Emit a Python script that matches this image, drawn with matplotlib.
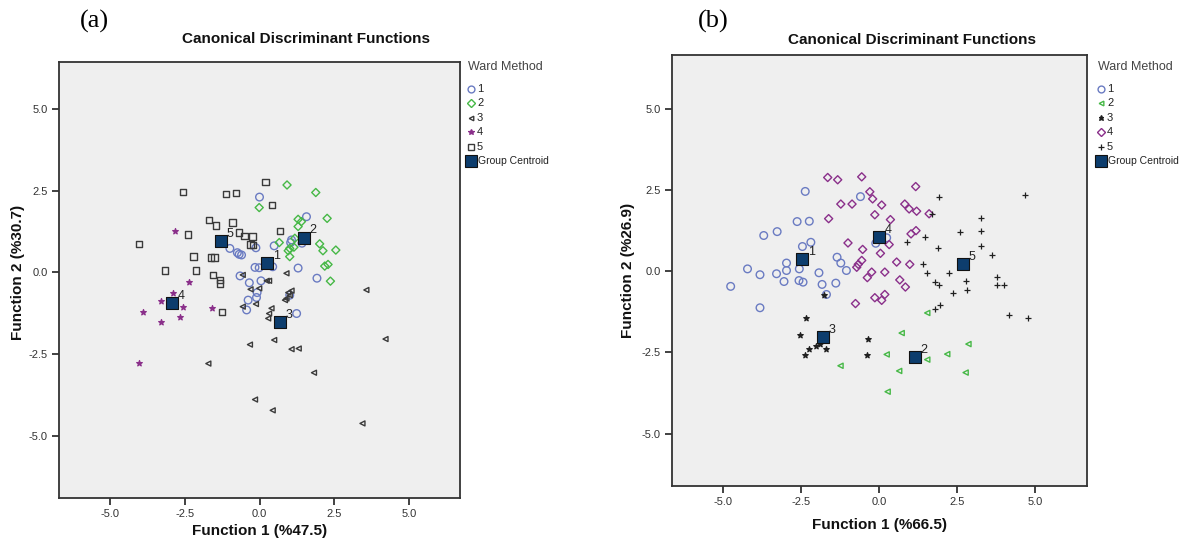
import numpy as np
import matplotlib.pyplot as plt
from matplotlib.lines import Line2D

plt.rcParams['font.family'] = ['Liberation Sans', 'DejaVu Sans']

# ---- panel (a) data: Ward Method groups 1..5 ----
g1a_x = [0.0, 1.57, 1.07, 1.04, 1.42, 0.49, -0.99, -0.74, -0.68, -0.60, -0.12, -0.15, -0.01, 0.44, 1.29,
         1.92, -0.65, -0.34, 0.05, -0.08, -0.38, -0.43, -0.10, 1.01, 1.24]
g1a_y = [2.30, 1.70, 0.99, 0.91, 0.89, 0.81, 0.73, 0.60, 0.55, 0.53, 0.75, 0.15, 0.14, 0.17, 0.13,
         -0.18, -0.11, -0.32, -0.26, -0.62, -0.85, -1.15, -0.77, -0.70, -1.26]
g2a_x = [0.92, 1.88, -0.01, 2.26, 1.29, 1.40, 1.29, 0.66, 1.18, 1.01, 0.96, 1.01, 1.15, 2.01, 2.12, 2.55,
         2.18, 2.29, 2.37]
g2a_y = [2.67, 2.44, 1.98, 1.65, 1.62, 1.55, 1.40, 0.91, 1.04, 0.73, 0.66, 0.48, 0.77, 0.87, 0.66, 0.68,
         0.19, 0.24, -0.27]
g3a_x = [0.90, 3.57, -0.56, 0.24, 0.32, -0.30, -0.01, 0.96, 1.07, 0.85, 0.90, 1.01, -0.56, -0.12, 0.40,
         0.32, 0.29, -0.32, 0.49, 1.07, 1.31, 4.21, 1.82, -0.15, 0.44, 3.44, -1.71]
g3a_y = [-0.03, -0.54, -0.08, -0.26, -0.26, -0.52, -0.49, -0.62, -0.56, -0.85, -0.80, -0.70, -1.05, -0.97,
         -1.10, -1.26, -1.41, -2.21, -2.07, -2.35, -2.33, -2.04, -3.07, -3.89, -4.22, -4.62, -2.79]
g4a_x = [-2.35, -2.88, -3.30, -2.56, -3.90, -3.29, -2.65, -1.60, -4.04, -2.82]
g4a_y = [-0.31, -0.64, -0.87, -1.07, -1.21, -1.51, -1.36, -1.08, -2.77, 1.27]
g5a_x = [0.20, -2.56, -1.12, -0.79, 0.42, -1.68, -1.45, -0.90, -2.39, -0.68, -0.50, -0.23, -0.21, -0.30,
         0.68, -4.03, -2.21, -1.62, -1.51, -3.15, -2.12, -1.56, -1.32, -1.32, -1.25]
g5a_y = [2.76, 2.45, 2.40, 2.42, 2.06, 1.60, 1.43, 1.52, 1.16, 1.21, 1.11, 1.09, 0.84, 0.85, 1.27, 0.86,
         0.48, 0.46, 0.45, 0.05, 0.05, -0.08, -0.24, -0.34, -1.21]
cent_a_x = [0.26, 1.49, 0.69, -2.93, -1.29]
cent_a_y = [0.28, 1.06, -1.51, -0.95, 0.96]

# ---- panel (b) data ----
g1b_x = [-2.36, -0.59, -2.62, -2.23, -3.69, -3.26, -2.45, -2.18, -0.10, 0.25, -1.34, -1.22, -1.04, -4.75,
         -4.21, -3.81, -3.81, -3.28, -2.96, -2.96, -3.04, -2.55, -2.56, -2.43, -1.92, -1.82, -1.68, -1.38]
g1b_y = [2.47, 2.31, 1.54, 1.55, 1.11, 1.23, 0.77, 0.90, 0.87, 1.04, 0.44, 0.26, 0.03, -0.46,
         0.08, -0.10, -1.12, -0.07, 0.26, 0.03, -0.31, 0.08, -0.28, -0.33, -0.04, -0.40, -0.71, -0.36]
g2b_x = [1.55, 0.73, 0.25, -1.23, 0.65, 0.28, 1.55, 2.19, 2.87, 2.78]
g2b_y = [-1.28, -1.90, -2.56, -2.91, -3.07, -3.71, -2.72, -2.55, -2.24, -3.12]
g3b_x = [-2.32, -2.53, -2.23, -2.36, -2.00, -1.89, -1.68, -1.75, -0.36, -0.39]
g3b_y = [-1.44, -1.97, -2.38, -2.58, -2.31, -2.25, -2.38, -0.74, -2.07, -2.58]
g4b_x = [-1.64, -1.32, -0.55, -0.29, -0.20, -1.22, -0.86, 0.09, 1.18, -0.13, 0.37, -1.61, 0.83, 0.97,
         1.21, 1.61, 1.19, 1.03, -0.99, -0.52, 0.33, 0.05, -0.55, -0.66, -0.71, -0.23, -0.37, 0.19,
         0.57, 0.99, 0.67, 0.85, 0.19, -0.13, 0.09, -0.75]
g4b_y = [2.90, 2.83, 2.92, 2.46, 2.24, 2.08, 2.08, 2.05, 2.62, 1.75, 1.60, 1.63, 2.08, 1.93,
         1.86, 1.78, 1.26, 1.16, 0.88, 0.68, 0.83, 0.56, 0.34, 0.22, 0.13, -0.02, -0.19, -0.02,
         0.29, 0.22, -0.26, -0.48, -0.71, -0.81, -0.89, -0.99]
g5b_x = [4.68, 1.93, 1.71, 3.26, 3.26, 2.60, 1.47, 0.91, 1.90, 3.27, 3.64, 1.40, 1.55, 2.25, 2.79, 2.81,
         1.79, 1.93, 2.38, 3.80, 3.77, 4.01, 1.96, 1.79, 4.17, 4.79]
g5b_y = [2.36, 2.29, 1.78, 1.65, 1.26, 1.21, 1.06, 0.90, 0.72, 0.80, 0.52, 0.22, -0.04, -0.04, -0.28,
         -0.56, -0.31, -0.41, -0.66, -0.17, -0.41, -0.41, -1.02, -1.17, -1.35, -1.43]
cent_b_x = [-2.46, 1.16, -1.80, 0.01, 2.70]
cent_b_y = [0.37, -2.64, -2.02, 1.06, 0.24]

group_labels = ['1', '2', '3', '4', '5']
ticks = [-5.0, -2.5, 0.0, 2.5, 5.0]

BLUE = '#6a7bc2'
GREEN = '#46b846'
DARK = '#3a3a3a'
PURPLE = '#8a2f8a'
NAVY = '#0d3d6d'

# marker styles per group (marker, size, filled, colour)
styles_a = [('o', 30, False, BLUE), ('D', 17, False, GREEN), ('<', 13, False, DARK),
            ('*', 18, True, PURPLE), ('s', 22, False, DARK)]
styles_b = [('o', 30, False, BLUE), ('<', 14, False, GREEN), ('*', 17, True, '#202020'),
            ('D', 17, False, PURPLE), ('+', 20, True, '#202020')]

W, H = 1188, 540
fig = plt.figure(figsize=(W / 100, H / 100), dpi=100)


def px_axes(l, t, r, b):
    return fig.add_axes([l / W, 1 - b / H, (r - l) / W, (b - t) / H])


def draw(ax, xs, ys, styles, cx, cy, xlim, ylim):
    ax.set_facecolor('#efefef')
    for (m, s, filled, c), x, y in zip(styles, xs, ys):
        if filled:
            ax.scatter(x, y, marker=m, s=s, c=c, linewidths=0.9, zorder=3)
        else:
            ax.scatter(x, y, marker=m, s=s, facecolors='none', edgecolors=c, linewidths=1.0, zorder=3)
    ax.scatter(cx, cy, marker='s', s=72, c=NAVY, edgecolors='#111111', linewidths=0.8, zorder=4)
    for lab, x, y in zip(group_labels, cx, cy):
        ax.annotate(lab, (x, y), xytext=(4, 3), textcoords='offset points', fontsize=9,
                    color='#222222', zorder=5)
    ax.set_xlim(*xlim)
    ax.set_ylim(*ylim)
    ax.set_xticks(ticks)
    ax.set_yticks(ticks)
    ax.set_xticklabels(['%.1f' % t for t in ticks])
    ax.set_yticklabels(['%.1f' % t for t in ticks])
    for sp in ax.spines.values():
        sp.set_color('#333333')
        sp.set_linewidth(1.3)
    ax.tick_params(direction='out', length=5, width=1.3, labelsize=8, colors='#333333', pad=3)


def legend(styles, x, y):
    # SPSS style legend drawn in pixel positions of the figure
    tf = fig.transFigure
    fig.text(x / W, 1 - y / H, 'Ward Method', fontsize=9, color='#444444', ha='left', va='center')
    rows = [y + 22 + 14.4 * i for i in range(6)]
    for (m, s, filled, c), lab, ry in zip(styles, group_labels, rows):
        ms = np.sqrt(s) * 0.9
        if filled:
            mk = Line2D([(x + 3) / W], [1 - ry / H], marker=m, linestyle='none', markersize=ms,
                        color=c, markeredgewidth=0.9, transform=tf)
        else:
            mk = Line2D([(x + 3) / W], [1 - ry / H], marker=m, linestyle='none', markersize=ms,
                        markerfacecolor='none', markeredgecolor=c, markeredgewidth=1.0, transform=tf)
        fig.add_artist(mk)
        fig.text((x + 9) / W, 1 - ry / H, lab, fontsize=8, color='#222222', ha='left', va='center')
    ry = rows[5]
    fig.add_artist(Line2D([(x + 3) / W], [1 - ry / H], marker='s', linestyle='none', markersize=8,
                          color=NAVY, markeredgecolor='#111111', markeredgewidth=0.8, transform=tf))
    fig.text((x + 10) / W, 1 - ry / H, 'Group Centroid', fontsize=7.5, color='#222222',
             ha='left', va='center')


ax_a = px_axes(59, 62, 460, 498)
draw(ax_a, [g1a_x, g2a_x, g3a_x, g4a_x, g5a_x], [g1a_y, g2a_y, g3a_y, g4a_y, g5a_y], styles_a,
     cent_a_x, cent_a_y, (-6.7, 6.7), (-6.9, 6.43))
legend(styles_a, 468, 67)

ax_b = px_axes(672, 55, 1087, 486)
draw(ax_b, [g1b_x, g2b_x, g3b_x, g4b_x, g5b_x], [g1b_y, g2b_y, g3b_y, g4b_y, g5b_y], styles_b,
     cent_b_x, cent_b_y, (-6.63, 6.67), (-6.62, 6.68))
legend(styles_b, 1098, 67)

# titles, panel letters and axis labels
fig.text(306 / W, 1 - 39 / H, 'Canonical Discriminant Functions', ha='center', va='center',
         fontsize=11, fontweight='bold', color='#111111')
fig.text(912 / W, 1 - 40 / H, 'Canonical Discriminant Functions', ha='center', va='center',
         fontsize=11, fontweight='bold', color='#111111')
fig.text(94 / W, 1 - 21 / H, '(a)', ha='center', va='center', fontsize=19, family='Liberation Serif')
fig.text(713 / W, 1 - 21 / H, '(b)', ha='center', va='center', fontsize=19, family='Liberation Serif')
fig.text(260 / W, 1 - 531 / H, 'Function 1 (%47.5)', ha='center', va='center', fontsize=11,
         fontweight='bold', color='#111111')
fig.text(879 / W, 1 - 525 / H, 'Function 1 (%66.5)', ha='center', va='center', fontsize=11,
         fontweight='bold', color='#111111')
fig.text(18 / W, 1 - 272 / H, 'Function 2 (%30.7)', ha='center', va='center', rotation=90,
         fontsize=11, fontweight='bold', color='#111111')
fig.text(628 / W, 1 - 270 / H, 'Function 2 (%26.9)', ha='center', va='center', rotation=90,
         fontsize=11, fontweight='bold', color='#111111')

fig.savefig('out.png', dpi=100, facecolor='white')
